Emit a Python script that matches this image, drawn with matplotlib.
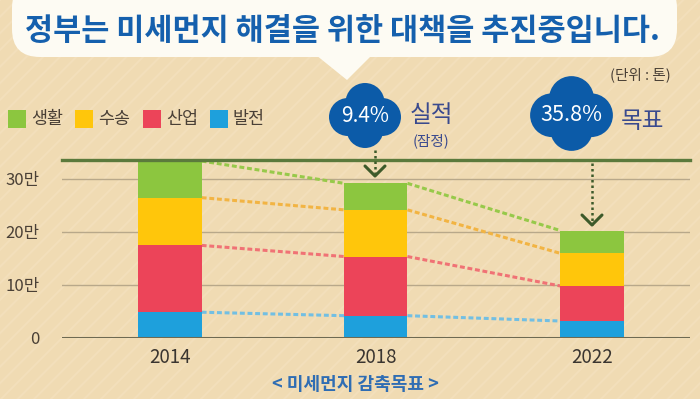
import numpy as np
import matplotlib
matplotlib.use('Agg')
import matplotlib.pyplot as plt
from matplotlib.patches import Circle, FancyBboxPatch, Polygon, Rectangle

plt.rcParams['font.family'] = ['Noto Sans CJK KR', 'DejaVu Sans']
plt.rcParams['hatch.linewidth'] = 1.5
plt.rcParams['hatch.color'] = '#f3dfbb'

# data (unit: 만 톤)
years = ['2014', '2018', '2022']
power = [4.8, 4.15, 3.15]          # 발전
industry = [12.6, 11.15, 6.6]      # 산업
transport = [9.0, 8.8, 6.15]       # 수송
living = [6.9, 5.0, 4.3]           # 생활
series_names = ['발전', '산업', '수송', '생활']
reductions = ['9.4%', '35.8%']
ytick_vals = [0, 10, 20, 30]
ytick_labels = ['0', '10만', '20만', '30만']

colors = ['#1ea0dc', '#ec4459', '#ffc60b', '#8cc63f']
dash_colors = ['#72bfe3', '#f07275', '#f2b443', '#97c94a']
bg = '#f0dbb3'
blue = '#1560ad'
text_col = '#4a4036'

fig = plt.figure(figsize=(7, 3.99), dpi=100)
fig.patch.set_facecolor(bg)

# striped background
ax_bg = fig.add_axes([0, 0, 1, 1], zorder=0)
ax_bg.set_xlim(0, 1)
ax_bg.set_ylim(0, 1)
ax_bg.axis('off')
ax_bg.add_patch(Rectangle((0, 0), 1, 1, facecolor=bg, edgecolor='#f3dfbb',
                          hatch='//', linewidth=0))

# main chart
ax = fig.add_axes([62 / 700, 1 - 337.7 / 399, 628 / 700, 177.7 / 399], zorder=1)
ax.set_facecolor('none')
x_pos = np.array([0, 0.975, 2.0])
w = 0.3
stack = [power, industry, transport, living]
bottom = np.zeros(3)
tops = []
for vals, c in zip(stack, colors):
    ax.bar(x_pos, vals, w, bottom=bottom, color=c, zorder=3)
    bottom = bottom + np.array(vals)
    tops.append(bottom.copy())

for t, c in zip(tops, dash_colors):
    for i in range(2):
        ax.plot([x_pos[i] + w / 2, x_pos[i + 1] - w / 2], [t[i], t[i + 1]],
                color=c, lw=2.2, ls=(0, (1.6, 0.9)), zorder=2)

ax.set_xlim(-0.512, 2.464)
ax.set_ylim(0, 33.5)
for v in ytick_vals[1:]:
    ax.axhline(v, color='#b8a88a', lw=1.0, zorder=1)
ax.axhline(0, color='#6e6a52', lw=2.2, zorder=4)
ax.axhline(33.5, color='#5b7a3c', lw=2.4, zorder=4, clip_on=False)
for s in ax.spines.values():
    s.set_visible(False)
ax.set_yticks(ytick_vals)
ax.set_yticklabels(ytick_labels, fontsize=12, color=text_col)
ax.set_xticks(x_pos)
ax.set_xticklabels(years, fontsize=13.5, color='#3a3530')
ax.tick_params(length=0)
ax.tick_params(axis='y', pad=16)
ax.tick_params(axis='x', pad=7)

# overlay in pixel coordinates
ov = fig.add_axes([0, 0, 1, 1], zorder=2)
ov.set_facecolor('none')
ov.set_xlim(0, 700)
ov.set_ylim(399, 0)
ov.axis('off')

# speech bubble
ov.add_patch(FancyBboxPatch((12, -20), 665, 77, boxstyle='round,pad=0,rounding_size=28',
                            facecolor='#fdfbf3', edgecolor='none'))
ov.add_patch(Polygon([(316, 55), (372, 55), (347, 80)], closed=True,
                     facecolor='#fdfbf3', edgecolor='none'))
ov.text(342, 31, '정부는 미세먼지 해결을 위한 대책을 추진중입니다.', fontsize=22,
        fontweight='bold', color=blue, ha='center', va='center')

# legend
leg_x = [8, 75, 143, 210]
for lx, name, c in zip(leg_x, series_names[::-1], colors[::-1]):
    ov.add_patch(Rectangle((lx, 110), 18, 18, facecolor=c, edgecolor='none'))
    ov.text(lx + 23, 119, name, fontsize=12.5, color=text_col, va='center', ha='left')


def draw_cloud(cx, cy, s):
    lobes = [(-17, 1.5, 19), (17, 1.5, 19), (0, -13, 19.5), (0, 14, 18.5), (0, 1, 24)]
    for dx, dy, r in lobes:
        ov.add_patch(Circle((cx + dx * s, cy + dy * s), r * s,
                            facecolor='#0c5ba8', edgecolor='none'))


draw_cloud(365, 115.5, 1.0)
draw_cloud(571.5, 113.5, 1.15)
ov.text(365, 116, reductions[0], fontsize=15, color='white', ha='center', va='center')
ov.text(571.5, 115, reductions[1], fontsize=15.5, color='white', ha='center', va='center')
ov.text(410, 115, '실적', fontsize=17, color='#3a4a8e', ha='left', va='center')
ov.text(431, 141, '(잠정)', fontsize=10.5, color='#3a4a8e', ha='center', va='center')
ov.text(621, 121, '목표', fontsize=17, color='#3a4a8e', ha='left', va='center')
ov.text(640, 75, '(단위 : 톤)', fontsize=10.5, color=text_col, ha='center', va='center')

# arrows
arrow_col = '#3d5a2a'
for ax_x, y0, y1 in [(375, 150, 176), (592, 163, 225)]:
    ov.plot([ax_x, ax_x], [y0, y1], color=arrow_col, lw=1.8, ls=(0, (1, 1.2)))
    ov.plot([ax_x - 10, ax_x, ax_x + 10], [y1 - 10, y1, y1 - 10], color=arrow_col, lw=2.2,
            solid_capstyle='round')

ov.text(355, 385, '< 미세먼지 감축목표 >', fontsize=13, color='#2f6db3', ha='center',
        va='center', fontweight='bold')

fig.savefig('out.png', dpi=100, facecolor=bg)
